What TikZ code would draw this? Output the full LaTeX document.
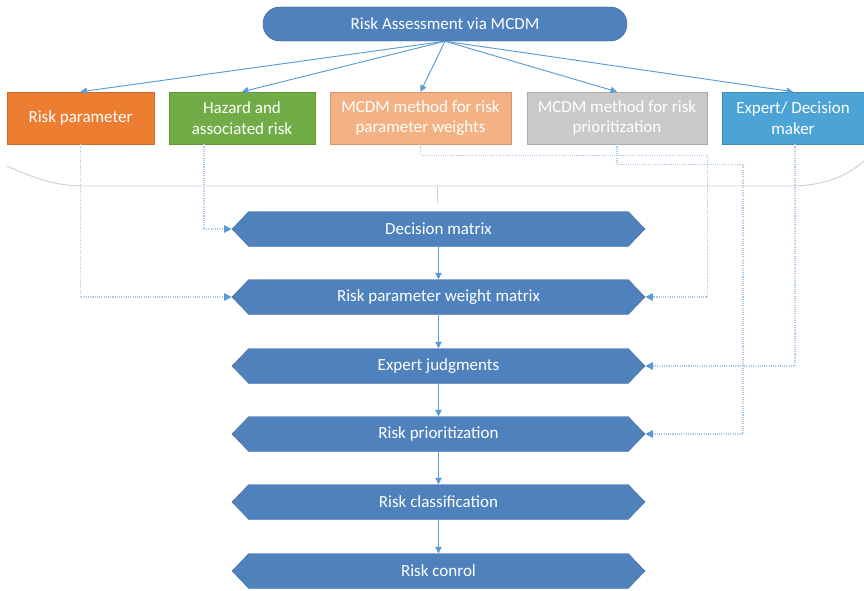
\documentclass[tikz,border=0pt]{standalone}
\usepackage{fontspec}
\setmainfont{Carlito}
\usetikzlibrary{arrows.meta,shapes.symbols}
\definecolor{stepblue}{HTML}{4F81BD}
\definecolor{lineblue}{HTML}{5B9BD5}
\definecolor{dotblue}{HTML}{A9CBEA}
\definecolor{riskorange}{HTML}{ED7D31}
\definecolor{hazgreen}{HTML}{70AD47}
\definecolor{paleorange}{HTML}{F4B183}
\definecolor{prigray}{HTML}{C9C9C9}
\definecolor{expblue}{HTML}{4BA3D6}
\definecolor{bracegray}{HTML}{D0D0D0}
\tikzset{
  labelfont/.style={font=\fontsize{14.5}{17.5}\selectfont},
  topbox/.style={rectangle, draw=#1!85!black, fill=#1, text=white, labelfont,
    minimum height=1.56cm, align=center, inner sep=1pt},
  stepbox/.style={signal, signal to=west and east, signal pointer angle=92,
    draw=stepblue!85!black, fill=stepblue, text=white, labelfont,
    minimum width=12.39cm, minimum height=1.05cm, inner sep=0pt},
  flow/.style={draw=lineblue, line width=0.8pt, -{Triangle[width=5.5pt,length=5.5pt]}},
  feed/.style={draw=dotblue, line width=0.9pt, densely dotted,
    -{Triangle[width=6.5pt,length=6.5pt,color=lineblue,fill=lineblue]}},
  brace/.style={draw=bracegray, line width=0.8pt}
}
\begin{document}
\begin{tikzpicture}[x=0.03cm,y=-0.03cm]
\useasboundingbox (0,0) rectangle (864,591);
% grey brace under the top row
\draw[brace] (7,166) .. controls (40,181) and (60,186) .. (85,186) -- (790,186)
  .. controls (820,186) and (845,178) .. (864,161);
\draw[brace] (437,186) -- (437,203);

\node[rectangle, rounded corners=0.5cm, draw=stepblue!80!black, fill=stepblue, text=white,
  labelfont, minimum width=10.92cm, minimum height=1.02cm] (mcdm) at (445,24) {Risk Assessment via MCDM};

\node[topbox=riskorange, minimum width=4.41cm] (riskpar) at (80.5,118) {Risk parameter};
\node[topbox=hazgreen, minimum width=4.38cm] (hazard) at (242,118) {Hazard and\\associated risk};
\node[topbox=paleorange, minimum width=5.43cm] (mcdmw) at (420.5,118) {MCDM method for risk\\parameter weights};
\node[topbox=prigray, minimum width=5.40cm] (mcdmp) at (617,118) {MCDM method for risk\\prioritization};
\node[topbox=expblue, minimum width=4.26cm] (expert) at (793,118) {Expert/ Decision\\maker};

\node[stepbox] (decmx) at (438.5,229) {Decision matrix};
\node[stepbox] (weightmx) at (438.5,297) {Risk parameter weight matrix};
\node[stepbox] (expjud) at (438.5,366) {Expert judgments};
\node[stepbox] (prior) at (438.5,434) {Risk prioritization};
\node[stepbox] (classif) at (438.5,502) {Risk classification};
\node[stepbox] (control) at (438.5,571) {Risk conrol};

% from the goal to the inputs
\foreach \tgt in {riskpar,hazard,mcdmw,mcdmp,expert}
  \draw[flow] (mcdm.south) -- (\tgt.north);

% main chain
\draw[flow] (decmx.south) -- (weightmx.north);
\draw[flow] (weightmx.south) -- (expjud.north);
\draw[flow] (expjud.south) -- (prior.north);
\draw[flow] (prior.south) -- (classif.north);
\draw[flow] (classif.south) -- (control.north);

% inputs feeding the steps
\draw[feed] (riskpar.south) |- (weightmx.west);
\draw[feed] (hazard.south) ++(-38,0) |- (decmx.west);
\draw[feed] (mcdmw.south) -- ++(0,11) -- ++(287,0) |- (weightmx.east);
\draw[feed] (mcdmp.south) -- ++(0,20) -- ++(126,0) |- (prior.east);
\draw[feed] (expert.south) ++(2,0) |- (expjud.east);
\end{tikzpicture}
\end{document}
